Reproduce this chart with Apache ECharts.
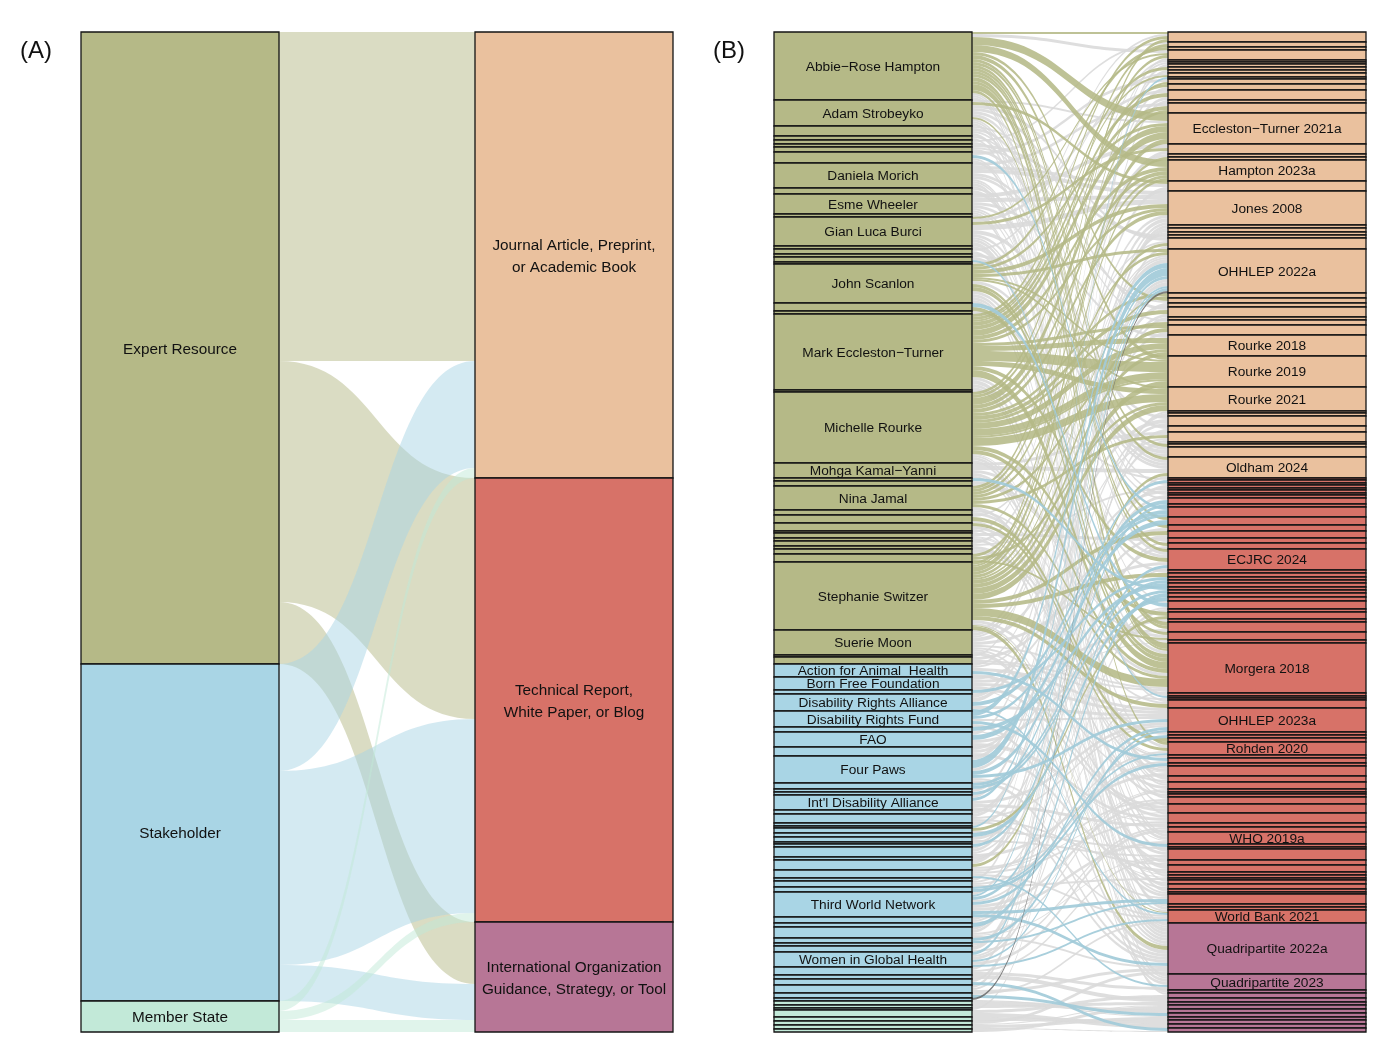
<!DOCTYPE html>
<html><head><meta charset="utf-8">
<style>html,body{margin:0;padding:0;background:#fff}#c{width:1398px;height:1052px}</style>
<script src="https://cdn.jsdelivr.net/npm/echarts@6/dist/echarts.min.js"></script>
</head><body><div id="c"></div>
<script>
const panelASources = ['Expert Resource','Stakeholder','Member State'];
const panelASourceSizes = [632,337,31];
const panelATargets = ['Journal Article, Preprint,\nor Academic Book','Technical Report,\nWhite Paper, or Blog','International Organization\nGuidance, Strategy, or Tool'];
const panelATargetSizes = [446,444,110];
const panelALinks = [[0,0,329],[0,1,241],[0,2,62],[1,0,107],[1,1,194],[1,2,36],[2,0,10],[2,1,9],[2,2,12]];

const expertColor='#b5b987', stakeholderColor='#a9d5e5', memberColor='#c2e9d8';
const journalColor='#eac19e', technicalColor='#d77268', orgColor='#b77696';

const sourceLabels = {0:'Abbie\u2212Rose Hampton',1:'Adam Strobeyko',8:'Daniela Morich',10:'Esme Wheeler',12:'Gian Luca Burci',18:'John Scanlon',21:'Mark Eccleston\u2212Turner',23:'Michelle Rourke',24:'Mohga Kamal\u2212Yanni',27:'Nina Jamal',38:'Stephanie Switzer',39:'Suerie Moon',42:'Action for Animal  Health',43:'Born Free Foundation',45:'Disability Rights Alliance',46:'Disability Rights Fund',48:'FAO',50:'Four Paws',54:"Int'l Disability Alliance",71:'Third World Network',78:'Women in Global Health'};
const expertSizes = [68,26,10,4,4,3,5,11,25,6,20,3,29,3,5,3,5,2,39,8,3,76,2,71,15,3,5,24,5,8,8,2,5,3,5,3,5,8,68,25,2,7];
const stakeholderSizes = [13,13,4,17,16,5,15,9,27,6,3,3,15,4,9,3,2,5,4,5,2,3,10,3,10,8,3,6,5,25,6,4,11,5,3,6,15,8,4,6,8,5,3];
const memberSizes = [4,3,2,7,4,4,4,3];

const targetLabels = {16:'Eccleston\u2212Turner 2021a',20:'Hampton 2023a',22:'Jones 2008',28:'OHHLEP 2022a',36:'Rourke 2018',37:'Rourke 2019',38:'Rourke 2021',47:'Oldham 2024',64:'ECJRC 2024',81:'Morgera 2018',86:'OHHLEP 2023a',90:'Rohden 2020',105:'WHO 2019a',121:'World Bank 2021',122:'Quadripartite 2022a',123:'Quadripartite 2023'};
const journalSizes = [10,5,3,10,2,2,3,3,3,4,2,5,6,10,3,10,31,10,3,3,21,10,34,3,4,3,3,11,44,5,5,4,10,3,5,10,21,31,24,2,3,10,6,10,2,3,10,21];
const technicalSizes = [2,3,2,3,2,3,2,3,6,3,10,8,6,7,5,6,21,3,4,3,3,4,3,3,4,4,8,3,7,3,10,8,3,50,3,2,2,8,24,3,3,4,13,3,5,3,10,6,7,3,2,3,7,9,10,4,5,12,3,2,11,5,7,3,3,2,4,5,3,2,10,3,3,13];
const orgSizes = [51,16,3,5,4,3,4,4,4,3,4,4,4];

const linksGray = [[14,0,2],[4,1,2],[0,3,3],[64,3,2],[31,4,2],[40,5,2],[82,6,3],[68,8,3],[17,9,2],[7,11,3],[54,12,3],[12,13,3],[48,13,3],[79,14,3],[8,15,3],[1,16,2],[10,17,4],[39,17,3],[34,18,3],[8,21,3],[45,21,4],[12,22,5],[8,22,4],[10,22,4],[50,22,4],[71,22,3],[39,22,3],[81,23,3],[77,24,4],[52,25,3],[5,26,3],[1,27,3],[74,27,3],[29,27,2],[64,28,3],[45,28,4],[66,28,4],[39,28,2],[42,28,2],[6,30,2],[55,31,4],[1,32,3],[56,32,3],[74,33,3],[2,34,2],[50,35,3],[10,36,3],[87,39,2],[76,40,3],[8,41,3],[39,41,4],[49,41,3],[1,42,3],[72,42,3],[24,43,3],[64,43,2],[42,43,2],[62,44,2],[12,46,4],[6,46,3],[15,46,3],[24,47,4],[8,47,3],[10,47,3],[2,47,3],[82,47,2],
[22,48,2],[4,50,2],[65,51,3],[34,52,2],[43,53,3],[3,54,2],[57,55,3],[9,56,2],[41,60,3],[49,61,3],[32,62,3],[72,62,2],[61,63,3],[18,64,3],[1,64,3],[39,64,3],[78,64,2],[20,65,3],[2,74,2],[69,74,2],[78,75,3],[48,77,3],[43,78,3],[26,79,3],[26,80,2],[44,80,1],[12,81,3],[39,81,2],[41,81,2],[24,81,3],[71,81,2],[16,82,3],[41,84,2],[28,85,2],[10,85,2],[43,86,3],[42,86,3],[45,86,3],[46,86,2],[54,86,3],[56,86,2],[36,87,3],[18,90,3],[67,90,2],[36,91,2],[32,91,1],[69,92,2],[28,94,3],[21,94,3],[64,94,3],[32,94,1],[39,95,2],[9,95,4],[35,96,3],[12,96,2],[8,96,2],[72,97,1],[74,97,2],[10,98,2],[30,99,3],[71,100,3],[8,100,2],[66,100,2],[43,101,3],[42,101,3],[7,101,2],[66,101,1],[38,102,3],[1,102,2],[67,102,2],[48,102,3],[54,103,3],[48,103,1],[77,104,2],[78,104,3],[71,105,3],[0,105,2],[18,105,3],[23,105,1],[7,105,3],[59,107,2],[27,108,3],[79,108,2],[12,108,3],[74,108,1],[61,108,2],[24,109,3],[56,109,2],[21,110,4],[49,110,3],[29,111,2],[43,111,1],[47,112,1],[1,112,2],[69,113,2],[39,114,2],[0,114,2],[18,115,3],[38,115,2],[2,116,3],[23,117,2],[33,118,3],[50,118,2],[13,119,3],[8,120,3],[24,121,2],[56,121,2],[67,121,2],[83,121,2],
[0,122,3],[12,122,4],[18,122,3],[39,122,4],[23,122,3],[21,122,3],[14,122,3],[74,122,2],[8,122,2],[50,122,3],[54,122,3],[46,122,3],[90,122,3],[82,122,3],[30,122,2],[23,123,3],[21,123,3],[10,123,2],[79,123,3],[1,123,3],[11,124,3],[88,125,3],[3,125,2],[80,126,4],[86,127,3],[92,128,3],[90,128,1],[85,129,4],[84,130,1],[91,131,3],[89,132,4],[88,133,4],[91,134,1]];
const linksOlive = [[0,0,2],[21,0,3],[38,0,3],[23,1,3],[18,2,3],[27,3,3],[12,3,2],[21,7,3],[21,9,2],[38,11,2],[23,12,3],[21,13,4],[21,15,4],[27,15,3],[0,16,8],[23,16,7],[21,16,6],[38,16,5],[18,16,3],[12,17,3],[37,19,3],[0,20,7],[21,20,4],[23,20,4],[38,20,3],[27,20,3],[1,21,3],[18,22,4],[23,22,4],[21,22,3],[38,27,3],[27,28,3],[18,28,3],[38,29,2],[23,29,3],[0,30,3],[23,32,4],[23,34,3],[38,35,4],[21,35,3],[23,36,6],[21,36,5],[38,36,4],[27,36,3],[21,37,10],[23,37,7],[38,37,6],[0,37,4],[23,37,2],[18,37,2],[23,38,8],[38,38,6],[21,38,5],[37,38,3],[18,38,2],[27,43,3],[0,45,3],[0,47,3],[66,47,3],
[0,59,3],[0,60,3],[38,61,4],[0,63,3],[0,64,3],[21,64,4],[38,66,4],[23,76,4],[59,76,3],[0,78,4],[0,78,3],[18,79,3],[37,79,2],[0,81,6],[21,81,7],[38,81,8],[23,81,4],[18,81,4],[27,81,3],[1,81,2],[19,81,4],[38,85,4],[29,89,4],[30,90,3],[0,90,3],[38,121,1],[38,122,4]];
const linksBlue = [[58,10,2],[50,28,8],[46,28,5],[54,28,3],[71,28,2],[78,28,3],[53,49,3],[50,56,4],[63,57,3],[45,58,4],[46,58,3],[7,58,3],[48,59,5],[71,64,3],[44,67,3],[51,68,3],[47,69,4],[25,70,3],[51,71,3],[73,72,4],[60,73,4],[19,74,4],[16,83,2],[71,86,3],[50,86,3],[78,86,2],[75,88,3],[70,90,2],[42,92,3],[70,93,3],[46,106,3],[75,118,2],[71,118,3],[45,121,2],[78,121,2],[71,122,3],[67,123,2],[83,130,3],[81,134,3]];
const linksDark = [[84,28,2]];

function panelA(){
  const nodes=[], colsL=[expertColor,stakeholderColor,memberColor], colsR=[journalColor,technicalColor,orgColor];
  panelASources.forEach((n,i)=>nodes.push({name:n,value:panelASourceSizes[i],itemStyle:{color:colsL[i]}}));
  panelATargets.forEach((n,i)=>nodes.push({name:n,value:panelATargetSizes[i],itemStyle:{color:colsR[i]}}));
  const links=panelALinks.map(l=>({source:panelASources[l[0]],target:panelATargets[l[1]],value:l[2],lineStyle:{color:colsL[l[0]],opacity:0.5}}));
  return {nodes,links};
}
function panelB(){
  const nodes=[];
  const srcSizes=expertSizes.concat(stakeholderSizes,memberSizes);
  const tgtSizes=journalSizes.concat(technicalSizes,orgSizes);
  srcSizes.forEach((v,i)=>{
    const c=i<expertSizes.length?expertColor:i<expertSizes.length+stakeholderSizes.length?stakeholderColor:memberColor;
    nodes.push({name:sourceLabels[i]||('s'+i),value:v,itemStyle:{color:c},label:{show:!!sourceLabels[i]}});
  });
  tgtSizes.forEach((v,i)=>{
    const c=i<journalSizes.length?journalColor:i<journalSizes.length+technicalSizes.length?technicalColor:orgColor;
    nodes.push({name:targetLabels[i]||('t'+i),value:v,itemStyle:{color:c},label:{show:!!targetLabels[i]}});
  });
  const sn=i=>sourceLabels[i]||('s'+i), tn=i=>targetLabels[i]||('t'+i);
  const mk=(arr,color,op)=>arr.map(l=>({source:sn(l[0]),target:tn(l[1]),value:l[2],lineStyle:{color:color,opacity:op}}));
  const links=[].concat(mk(linksGray,'#dadada',0.9),mk(linksOlive,'#b5b987',0.88),mk(linksBlue,'#a2cbd9',0.92),mk(linksDark,'#6a6a6a',0.85));
  return {nodes,links};
}
const A=panelA(), B=panelB();
const base={type:'sankey',nodeAlign:'justify',layoutIterations:0,nodeGap:0,nodeWidth:198,top:32,height:1000,width:592,silent:true,animation:false,emphasis:{disabled:true},
  itemStyle:{borderColor:'#151515',borderWidth:1.3}};
const fam='"Liberation Sans", Arial, sans-serif';
const chart=echarts.init(document.getElementById('c'),null,{renderer:'canvas'});
chart.setOption({animation:false,
  title:[{text:'(A)',left:15,top:34,textStyle:{fontSize:24,fontWeight:'normal',fontFamily:fam,color:'#111'}},
         {text:'(B)',left:708,top:34,textStyle:{fontSize:24,fontWeight:'normal',fontFamily:fam,color:'#111'}}],
  series:[
   Object.assign({},base,{left:81,data:A.nodes,links:A.links,label:{position:'inside',offset:[0,1.5],fontFamily:fam,fontSize:15.3,lineHeight:22,color:'#111'}}),
   Object.assign({},base,{left:774,data:B.nodes,links:B.links,label:{position:'inside',offset:[0,1],fontFamily:fam,fontSize:13.7,color:'#111'}})
  ]});
</script></body></html>
